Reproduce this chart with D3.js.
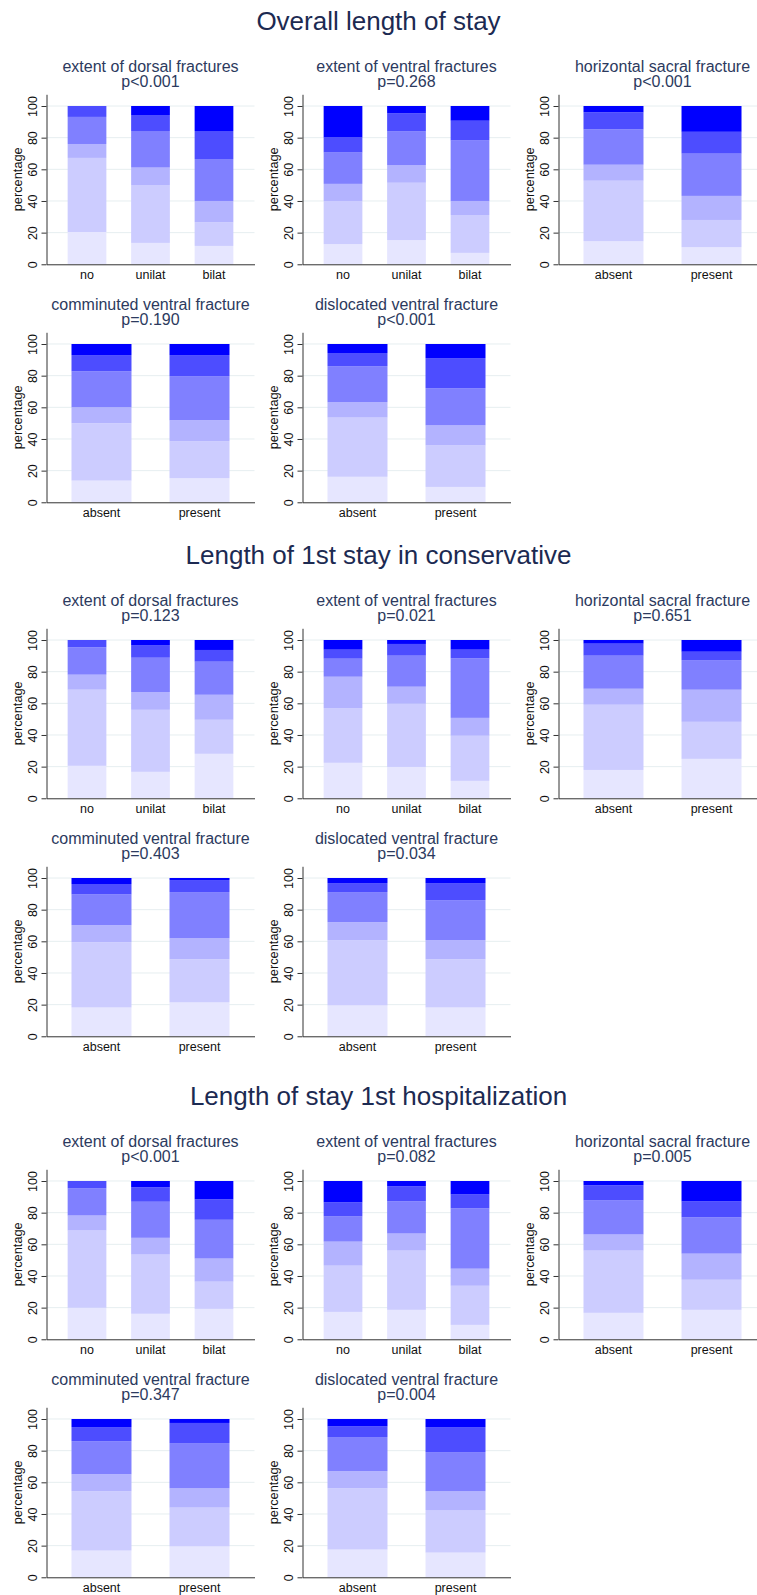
<!DOCTYPE html>
<html>
<head>
<meta charset="utf-8">
<script src="https://cdn.jsdelivr.net/npm/d3@7"></script>
<style>
    body { margin: 0; background: #fff; }
    text { font-family: "Liberation Sans", Arial, Helvetica, sans-serif; }
</style>
</head>
<body>
<div id="chart"></div>
<script>
// section titles, panel titles and categories
const sectionTitles = ["Overall length of stay", "Length of 1st stay in conservative", "Length of stay 1st hospitalization"]
const panelTitles = ["extent of dorsal fractures", "extent of ventral fractures", "horizontal sacral fracture",
    "comminuted ventral fracture", "dislocated ventral fracture"]
const panelCategories = [["no", "unilat", "bilat"], ["no", "unilat", "bilat"], ["absent", "present"],
    ["absent", "present"], ["absent", "present"]]
const pValues = [
    ["p<0.001", "p=0.268", "p<0.001", "p=0.190", "p<0.001"],
    ["p=0.123", "p=0.021", "p=0.651", "p=0.403", "p=0.034"],
    ["p<0.001", "p=0.082", "p=0.005", "p=0.347", "p=0.004"]
]
const yTicks = [0, 20, 40, 60, 80, 100]

// percentages per stay class, bottom (shortest) to top (longest)
const overallStay = [
    [[20.4, 46.8, 8.8, 17.1, 6.9, 0], [13.5, 36.6, 11.0, 23.1, 10.1, 5.7], [11.6, 14.9, 13.5, 26.5, 17.7, 15.8]],
    [[12.7, 27.3, 10.8, 19.8, 9.5, 19.9], [15.3, 36.2, 11.2, 21.2, 11.4, 4.7], [7.2, 23.9, 8.9, 38.2, 12.5, 9.3]],
    [[14.6, 38.2, 10.1, 22.3, 10.8, 4.0], [10.8, 17.2, 15.2, 26.7, 13.8, 16.3]],
    [[13.7, 36.2, 10.1, 22.7, 10.3, 7.0], [15.2, 23.3, 13.3, 27.9, 13.3, 7.0]],
    [[16.1, 37.4, 9.7, 22.8, 8.3, 5.7], [9.7, 26.2, 12.7, 23.5, 19.0, 8.9]]
]
const conservativeStay = [
    [[20.5, 48.1, 9.5, 17.3, 4.6, 0], [16.7, 39.2, 11.2, 21.7, 8.0, 3.2], [28.1, 21.5, 15.8, 20.9, 7.4, 6.3]],
    [[22.4, 34.6, 19.8, 11.4, 5.7, 6.1], [19.8, 39.9, 10.8, 19.6, 7.4, 2.5], [11.0, 28.5, 11.3, 37.6, 5.5, 6.1]],
    [[17.9, 41.2, 10.1, 20.9, 7.6, 2.3], [24.9, 23.4, 20.3, 18.7, 5.3, 7.4]],
    [[18.2, 41.2, 10.8, 19.4, 6.6, 3.8], [21.4, 27.2, 13.3, 29.2, 7.6, 1.3]],
    [[19.5, 41.2, 11.4, 19.0, 5.7, 3.2], [18.2, 30.4, 12.1, 25.3, 10.8, 3.2]]
]
const hospitalStay = [
    [[19.9, 48.8, 9.5, 17.1, 4.7, 0], [16.1, 37.4, 10.6, 22.8, 9.1, 4.0], [19.2, 17.2, 14.6, 24.5, 12.9, 11.6]],
    [[17.3, 29.2, 15.2, 15.9, 8.9, 13.5], [18.6, 37.4, 10.8, 20.3, 9.5, 3.4], [9.1, 24.7, 10.8, 38.1, 8.8, 8.5]],
    [[16.7, 39.3, 10.2, 21.5, 9.6, 2.7], [18.6, 19.0, 16.5, 22.9, 10.1, 12.9]],
    [[16.9, 37.4, 10.8, 20.9, 8.9, 5.1], [19.5, 24.5, 12.2, 28.6, 12.7, 2.5]],
    [[17.5, 38.7, 10.8, 21.6, 6.7, 4.7], [15.6, 26.9, 11.8, 24.8, 15.8, 5.1]]
]
const sectionData = [overallStay, conservativeStay, hospitalStay]

const stackColors = ["#e6e6ff", "#ccccff", "#b3b3ff", "#8080ff", "#4d4dff", "#0000ff"]

let dimensions = {
    width: 757,
    height: 1595,
    plotWidth: 208,
    axisHeight: 170,
    sectionTop: [106, 640, 1181],   // y of the 100 gridline, first row
    rowGap: 238,
    colX: [46.5, 302.5, 558.5]
}

const svg = d3.select('#chart')
    .append('svg')
    .attr('width', dimensions.width)
    .attr('height', dimensions.height)

svg.append('rect')
    .attr('width', dimensions.width)
    .attr('height', dimensions.height)
    .attr('fill', '#fff')

// y axis runs a little past 100, like stata does
const yScale = d3.scaleLinear()
    .domain([0, 107.4])
    .range([dimensions.axisHeight, 0])

const stack = d3.stack()
    .keys(d3.range(stackColors.length))
    .value((d, k) => d[k])

function drawPanel(g, title, pText, cats, values) {
    const xScale = d3.scaleBand()
        .domain(cats)
        .range([0, dimensions.plotWidth])
        .paddingInner(cats.length === 3 ? 0.39 : 0.388)
        .paddingOuter(cats.length === 3 ? 0.333 : 0.255)

    // gridlines
    g.append('g')
        .selectAll('line')
        .data(yTicks.filter(t => t > 0))
        .join('line')
        .attr('x1', 0)
        .attr('x2', dimensions.plotWidth)
        .attr('y1', d => yScale(d))
        .attr('y2', d => yScale(d))
        .attr('stroke', '#e6eef0')
        .attr('stroke-width', 1)

    const rows = values.map((v, i) => Object.assign(v.slice(), { cat: cats[i] }))
    const series = stack(rows)

    g.append('g')
        .selectAll('g')
        .data(series)
        .join('g')
        .attr('fill', (d, i) => stackColors[i])
        .selectAll('rect')
        .data(d => d)
        .join('rect')
        .attr('x', d => xScale(d.data.cat))
        .attr('width', xScale.bandwidth())
        .attr('y', d => yScale(d[1]))
        .attr('height', d => yScale(d[0]) - yScale(d[1]))

    // y axis with vertical tick labels
    const yAxis = g.append('g')
        .call(d3.axisLeft(yScale).tickValues(yTicks).tickSize(5).tickSizeOuter(0))
    yAxis.select('.domain').attr('stroke', '#333')
    yAxis.selectAll('.tick line').attr('stroke', '#333')
    yAxis.selectAll('text')
        .attr('x', 0)
        .attr('dy', 0)
        .attr('text-anchor', 'middle')
        .attr('transform', 'translate(-10,0) rotate(-90)')
        .attr('font-size', 12.5)
        .attr('fill', '#111')

    // x axis
    const xAxis = g.append('g')
        .attr('transform', `translate(0, ${yScale(0)})`)
        .call(d3.axisBottom(xScale).tickSize(0).tickSizeOuter(0).tickPadding(6))
    xAxis.select('.domain').attr('stroke', '#333')
    xAxis.selectAll('text')
        .attr('font-size', 12.5)
        .attr('fill', '#111')

    g.append('text')
        .attr('transform', `translate(-25, ${yScale(107.4 / 2)}) rotate(-90)`)
        .attr('text-anchor', 'middle')
        .attr('font-size', 12.8)
        .attr('fill', '#111')
        .text('percentage')

    g.append('text')
        .attr('x', dimensions.plotWidth / 2)
        .attr('y', yScale(100) - 34.3)
        .attr('text-anchor', 'middle')
        .attr('font-size', 16)
        .attr('fill', '#2c3a5e')
        .text(title)

    g.append('text')
        .attr('x', dimensions.plotWidth / 2)
        .attr('y', yScale(100) - 18.7)
        .attr('text-anchor', 'middle')
        .attr('font-size', 16)
        .attr('fill', '#2c3a5e')
        .text(pText)
}

sectionTitles.forEach((sTitle, s) => {
    const top = dimensions.sectionTop[s]

    svg.append('text')
        .attr('x', dimensions.width / 2)
        .attr('y', top - 76)
        .attr('text-anchor', 'middle')
        .attr('font-size', 26)
        .attr('fill', '#1c2a52')
        .text(sTitle)

    panelTitles.forEach((pTitle, p) => {
        const row = p < 3 ? 0 : 1
        const col = p < 3 ? p : p - 3
        const g = svg.append('g')
            .attr('transform', `translate(${dimensions.colX[col]}, ${top + row * dimensions.rowGap - yScale(100)})`)
        drawPanel(g, pTitle, pValues[s][p], panelCategories[p], sectionData[s][p])
    })
})
</script>
</body>
</html>
